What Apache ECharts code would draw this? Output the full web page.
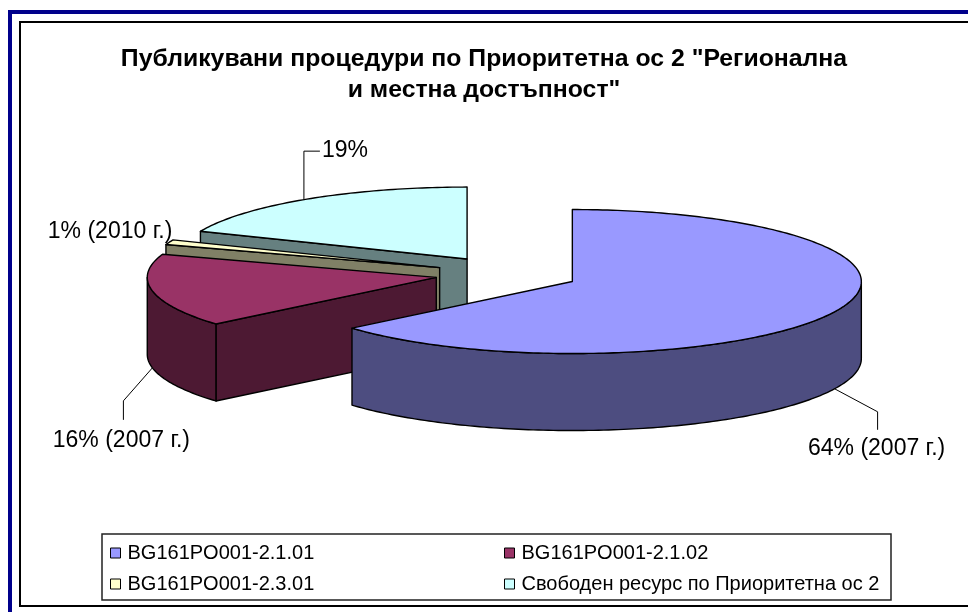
<!DOCTYPE html>
<html><head><meta charset="utf-8">
<style>html,body{margin:0;padding:0;background:#fff}#c{width:968px;height:612px}</style>
<script src="https://cdn.jsdelivr.net/npm/echarts@6/dist/echarts.min.js"></script>
</head><body><div id="c"></div>
<script>
// ---- data ----
const titleText = 'Публикувани процедури по Приоритетна ос 2 "Регионална\nи местна достъпност"';
const categories = ['BG161PO001-2.1.01', 'BG161PO001-2.1.02', 'BG161PO001-2.3.01', 'Свободен ресурс по Приоритетна ос 2'];
const values = [63.8, 16.4, 1.1, 18.7];
const yearNotes = [' (2007 г.)', ' (2007 г.)', ' (2010 г.)', ''];
// ---- style & layout ----
const topColors = ['#9999FF', '#993366', '#FFFFCC', '#CCFFFF'];
const sideColors = ['#4D4D80', '#4D1933', '#808066', '#668080'];
const drawOrder = [3, 2, 1, 0];
const pie = { cx: 507, cy: 274, rx: 289, ry: 72, depth: 77, explode: 72 };
const FONT = '"Liberation Sans", Arial, sans-serif';
const labelFont = 23, legendFont = 20, titleFont = 24.8;
// leader elbows relative to the slice's rim point; base: 'top' or 'bottom' of the rim
const leaders = [
  { base: 'bottom', from: [0, 0], elbows: [[43, 23], [43, 41]], text: [42, 60], align: 'center' },
  { base: 'bottom', from: [0, 0], elbows: [[-29, 33], [-29, 52]], text: [-31, 73], align: 'center' },
  { base: 'top', from: [0, 0], elbows: [], text: [3, -11], align: 'right' },
  { base: 'top', from: [-3, 0], elbows: [[-3, -48], [13, -48]], text: [15, -48], align: 'left' }
];
// ---- geometry from values ----
const total = values.reduce((a, b) => a + b, 0);
const slices = [];
let acc = 0;
values.forEach((v) => {
  const start = acc / total * 360; acc += v;
  const end = acc / total * 360; const mid = (start + end) / 2;
  const r = mid * Math.PI / 180;
  slices.push({ start, end, mid,
    ax: pie.cx + pie.explode * Math.sin(r),
    ay: pie.cy - pie.explode * (pie.ry / pie.rx) * Math.cos(r) });
});
function pt(s, deg, dz) {
  const r = deg * Math.PI / 180;
  return [s.ax + pie.rx * Math.sin(r), s.ay - pie.ry * Math.cos(r) + (dz || 0)];
}
function arc(s, a, b, dz) {
  const pts = [], n = Math.max(2, Math.ceil(Math.abs(b - a)));
  for (let i = 0; i <= n; i++) pts.push(pt(s, a + (b - a) * i / n, dz));
  return pts;
}
const stroke = { stroke: '#000', lineWidth: 1.4, lineJoin: 'round' };
function poly(points, fill) {
  return { type: 'polygon', shape: { points }, style: Object.assign({ fill }, stroke) };
}
function renderSlice(params, api) {
  const idx = api.value(0), s = slices[idx], side = sideColors[idx], kids = [];
  const A = [s.ax, s.ay], A2 = [s.ax, s.ay + pie.depth];
  // radial face at the start edge faces the viewer when it lies in the back/left half
  if (s.start > 180) {
    const p = pt(s, s.start), p2 = pt(s, s.start, pie.depth);
    kids.push(poly([A, p, p2, A2], side));
  }
  const ra = Math.max(s.start, 90), rb = Math.min(s.end, 270);
  if (rb > ra) {
    kids.push(poly(arc(s, ra, rb, 0).concat(arc(s, rb, ra, pie.depth)), side));
  }
  kids.push(poly([A].concat(arc(s, s.start, s.end, 0)), topColors[idx]));
  // leader and label
  const L = leaders[idx];
  const o = pt(s, s.mid, L.base === 'bottom' ? pie.depth : 0);
  if (L.elbows.length) {
    kids.push({ type: 'polyline', z2: 5,
      shape: { points: [[o[0] + L.from[0], o[1] + L.from[1]]].concat(L.elbows.map(e => [o[0] + e[0], o[1] + e[1]])) },
      style: { stroke: '#000', lineWidth: 1, fill: null } });
  }
  kids.push({ type: 'text', z2: 6, style: {
    text: Math.round(api.value(1)) + '%' + yearNotes[idx],
    x: o[0] + L.text[0], y: o[1] + L.text[1],
    align: L.align, verticalAlign: 'middle',
    font: labelFont + 'px ' + FONT, fill: '#000' } });
  return { type: 'group', children: kids };
}
// ---- chart ----
const chart = echarts.init(document.getElementById('c'), null, { renderer: 'canvas' });
const legendBase = { orient: 'vertical', icon: 'rect', itemWidth: 10, itemHeight: 10, itemGap: 11,
  selectedMode: false, padding: 0,
  itemStyle: { borderColor: '#000', borderWidth: 1 },
  textStyle: { fontFamily: FONT, fontSize: legendFont, color: '#000', padding: [0, 0, 0, 2] } };
chart.setOption({
  animation: false,
  backgroundColor: '#fff',
  title: { text: titleText, left: 'center', top: 39,
    textStyle: { fontFamily: FONT, fontSize: titleFont, fontWeight: 'bold', color: '#000', lineHeight: 31 } },
  legend: [
    Object.assign({}, legendBase, { left: 110, top: 543, data: [categories[0], categories[2]] }),
    Object.assign({}, legendBase, { left: 504, top: 543, data: [categories[1], categories[3]] })
  ],
  tooltip: { show: false },
  graphic: [
    { type: 'line', silent: true, shape: { x1: 10, y1: 612, x2: 10, y2: 12 }, style: { stroke: '#00008B', lineWidth: 4 } },
    { type: 'line', silent: true, shape: { x1: 8, y1: 12, x2: 968, y2: 12 }, style: { stroke: '#00008B', lineWidth: 4 } },
    { type: 'polyline', silent: true, shape: { points: [[968, 22], [20, 22], [20, 606], [968, 606]] }, style: { stroke: '#000', lineWidth: 2, fill: null } },
    { type: 'rect', silent: true, shape: { x: 102, y: 534, width: 789, height: 66 }, style: { stroke: '#222', lineWidth: 1.5, fill: null } }
  ],
  series: drawOrder.map((i, k) => ({
    type: 'custom', name: categories[i], coordinateSystem: 'none', z: 2 + k, silent: true,
    itemStyle: { color: topColors[i] },
    renderItem: renderSlice,
    data: [[i, values[i]]]
  }))
});
</script></body></html>
